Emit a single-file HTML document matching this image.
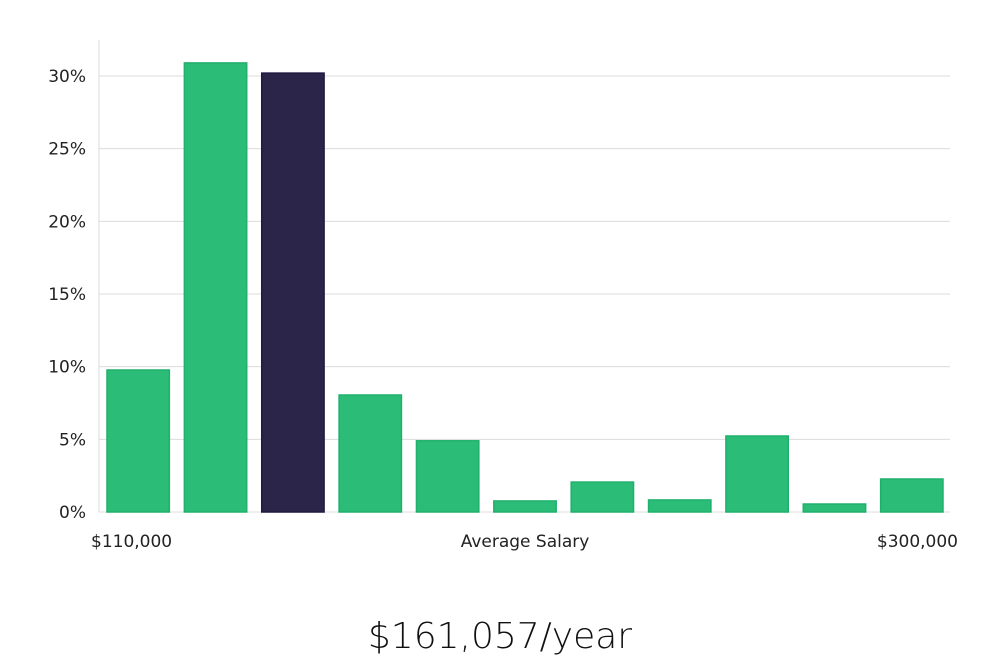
<!DOCTYPE html>
<html><head><meta charset="utf-8"><style>
html,body{margin:0;padding:0;background:#fff;width:1000px;height:660px;overflow:hidden}
text{font-family:"DejaVu Sans","Liberation Sans",sans-serif}
</style></head><body>
<svg id="chart" width="1000" height="660" xmlns="http://www.w3.org/2000/svg"></svg>
<script>
const categories=["b1","b2","b3","b4","b5","b6","b7","b8","b9","b10","b11"];
const values=[9.77,30.9,30.2,8.05,4.9,0.76,2.06,0.83,5.23,0.55,2.27];
const highlight=[false,false,true,false,false,false,false,false,false,false,false];
const yTicks=[0,5,10,15,20,25,30];
const yTickLabels=["0%","5%","10%","15%","20%","25%","30%"];
const xLabels=["$110,000","Average Salary","$300,000"];
const NS="http://www.w3.org/2000/svg";
const chartSvg=document.getElementById("chart");
const plotL=99,plotR=950,plotT=40,plotB=512;
const yScale=v=>plotB-v*(436/30);
const pitch=(plotR-plotL)/categories.length;
const xScale=i=>plotL+i*pitch;
function mk(t,a){const e=document.createElementNS(NS,t);for(const k in a)e.setAttribute(k,a[k]);chartSvg.appendChild(e);return e;}
yTicks.forEach((t,i)=>{
  const g=mk("line",{x1:plotL,x2:plotR,y1:yScale(t),y2:yScale(t),stroke:"#dcdcdc","stroke-width":1});
  
  
  const l=mk("text",{x:86,y:yScale(t)+6,"text-anchor":"end","font-size":17,fill:"#222"});
  l.textContent=yTickLabels[i];
  
  
});
const ax=mk("line",{x1:plotL,x2:plotL,y1:plotT,y2:plotB,stroke:"#dcdcdc","stroke-width":1});


values.forEach((v,i)=>{
  const r=mk("rect",{x:xScale(i)+8,y:yScale(v),width:pitch-15,height:plotB-yScale(v),
    fill:highlight[i]?"#2a2549":"#2bbd78",stroke:highlight[i]?"#1f1a40":"#20b06c","stroke-width":1.5});
  
  
});
const xl=[[91,"start"],[525,"middle"],[958,"end"]];
xLabels.forEach((s,i)=>{
  const t=mk("text",{x:xl[i][0],y:547,"text-anchor":xl[i][1],"font-size":17,fill:"#222"});
  t.textContent=s;
  
  
});
const ttl=mk("text",{x:500,y:648,"text-anchor":"middle","font-size":36,fill:"#111","font-weight":"300"});
ttl.textContent="$161,057/year";


</script>
</body></html>
